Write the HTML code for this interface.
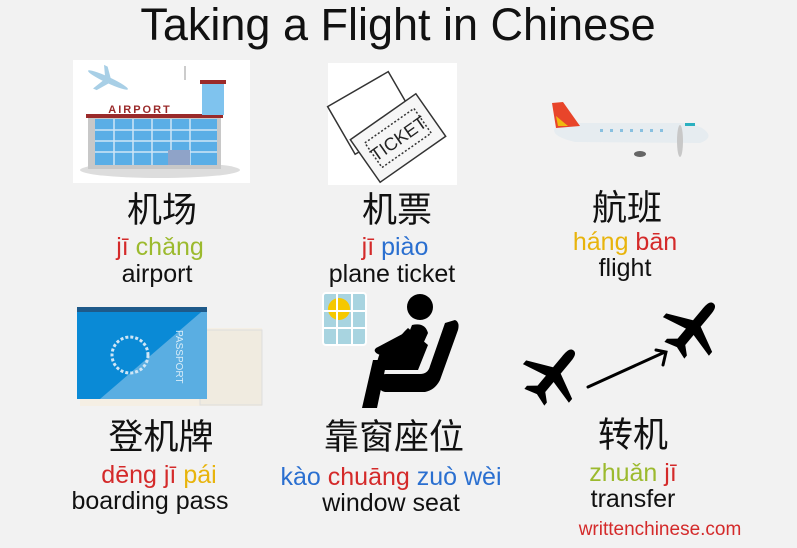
<!DOCTYPE html>
<html><head><meta charset="utf-8"><style>
body{margin:0;width:797px;height:548px;background:#f2f2f2;position:relative;overflow:hidden;font-family:"Liberation Sans","Noto Sans CJK SC",sans-serif;}
.t{position:absolute;text-align:center;white-space:nowrap;transform:translateX(-50%);line-height:1;}
.zh{font-size:35px;color:#111;font-family:"Noto Sans CJK SC",sans-serif;}
.py{font-size:25px;}
.en{font-size:25px;color:#111;}
.r{color:#d42a2a}.g{color:#9cba2e}.b{color:#2a6fd0}.y{color:#e8b40c}
</style></head><body>
<div class="t" style="left:398px;top:2px;font-size:45px;color:#111;">Taking a Flight in Chinese</div>

<svg width="797" height="548" style="position:absolute;left:0;top:0">
<rect x="73" y="60" width="177" height="123" fill="#fff"/>
<ellipse cx="160" cy="170" rx="80" ry="8" fill="#ddd"/>
<rect x="88" y="117" width="133" height="52" fill="#c8c8c8"/>
<rect x="95" y="119" width="122" height="46" fill="#5aaee6"/>
<g stroke="#cfe6f6" stroke-width="1.5"><line x1="95" y1="130" x2="217" y2="130"/><line x1="95" y1="141" x2="217" y2="141"/><line x1="95" y1="152" x2="217" y2="152"/><line x1="114" y1="119" x2="114" y2="165"/><line x1="133" y1="119" x2="133" y2="165"/><line x1="152" y1="119" x2="152" y2="165"/><line x1="171" y1="119" x2="171" y2="165"/><line x1="190" y1="119" x2="190" y2="165"/></g>
<rect x="86" y="114" width="137" height="4" fill="#9a2a2a"/>
<rect x="168" y="150" width="22" height="15" fill="#8fa3c8"/>
<text x="140" y="113" font-size="11" fill="#9a2a2a" font-weight="bold" text-anchor="middle" font-family="Liberation Sans" letter-spacing="2">AIRPORT</text>
<rect x="202" y="82" width="22" height="33" fill="#7fc3ee"/>
<rect x="200" y="80" width="26" height="4" fill="#9a2a2a"/>
<line x1="185" y1="66" x2="185" y2="80" stroke="#999"/>
<g transform="translate(108,80) rotate(25)"><ellipse cx="0" cy="0" rx="22" ry="3" fill="#a8cfe6"/><polygon points="-3,0 4,0 -6,14 -10,14" fill="#a8cfe6"/><polygon points="-3,0 4,0 -6,-12 -10,-12" fill="#a8cfe6"/></g>
<rect x="328" y="63" width="129" height="122" fill="#fff"/>
<g transform="translate(385,122) rotate(-30)" stroke="#333" fill="#fff" stroke-width="1.5"><rect x="-42" y="-42" width="70" height="55"/></g>
<g transform="translate(398,138) rotate(-35)" stroke="#333" fill="#f6f6f6" stroke-width="1.5"><rect x="-40" y="-26" width="80" height="52"/><rect x="-30" y="-15" width="60" height="30" fill="none" stroke-dasharray="2,2"/><text x="0" y="7" font-size="18" font-family="Liberation Sans" text-anchor="middle" fill="#222" stroke="none">TICKET</text></g>
<path d="M555,128 Q550,136 575,142 L700,143 Q716,137 702,128 L690,123 L580,123 Z" fill="#e6ecf0"/>
<polygon points="552,103 563,102 580,126 556,128" fill="#e8452a"/>
<polygon points="556,116 568,126 558,126" fill="#f0b90f"/>
<ellipse cx="680" cy="141" rx="3" ry="16" fill="#c8c8c8"/>
<rect x="685" y="123" width="10" height="3" fill="#2ab0c0"/>
<g fill="#88c0e0"><rect x="600" y="129" width="3" height="3"/><rect x="610" y="129" width="3" height="3"/><rect x="620" y="129" width="3" height="3"/><rect x="630" y="129" width="3" height="3"/><rect x="640" y="129" width="3" height="3"/><rect x="650" y="129" width="3" height="3"/><rect x="660" y="129" width="3" height="3"/></g>
<ellipse cx="640" cy="154" rx="6" ry="3" fill="#666"/>
<rect x="80" y="328" width="182" height="78" fill="#f5efe4"/>
<rect x="200" y="330" width="62" height="75" fill="#f0ebe0" stroke="#ddd"/>
<rect x="77" y="307" width="130" height="92" fill="#0a8ad6"/>
<polygon points="207,307 207,399 100,399" fill="#5aaee2"/>
<rect x="77" y="307" width="130" height="5" fill="#1e5a8a"/>
<circle cx="130" cy="355" r="18" fill="none" stroke="#cfe6f6" stroke-width="3" stroke-dasharray="3,2"/>
<text x="176" y="330" font-size="10" fill="#d8ecf8" transform="rotate(90 176 330)" font-family="Liberation Sans">PASSPORT</text>
<rect x="323" y="293" width="43" height="52" rx="3" fill="#a8d4e0" stroke="#fff" stroke-width="2"/>
<circle cx="339" cy="309" r="11" fill="#f5c800"/>
<g stroke="#fff" stroke-width="2"><line x1="337" y1="293" x2="337" y2="345"/><line x1="352" y1="293" x2="352" y2="345"/><line x1="323" y1="311" x2="366" y2="311"/><line x1="323" y1="328" x2="366" y2="328"/></g>
<circle cx="420" cy="307" r="13" fill="#000"/>
<path d="M412,325 Q425,322 428,333 L418,355 L380,355 Q372,352 376,348 L410,330 Z" fill="#000"/>
<path d="M408,328 Q395,340 395,350 L380,353 Q375,365 378,370 L418,370 L428,345 Z" fill="#000"/>
<path d="M373,360 L387,360 L377,408 L362,408 Z" fill="#000"/>
<path d="M445,323 L455,320 Q460,322 458,330 L440,380 Q435,390 425,392 L385,392 Q377,390 377,382 Q378,374 386,374 L420,374 Q428,374 430,366 Z" fill="#000"/>
<g transform="translate(553,375) rotate(40)" fill="#000"><path d="M0,-32 C5,-32 5,-25 5,-20 L5,-6 L30,6 L30,11 L5,5 L5,18 L13,25 L13,29 L0,25 L-13,29 L-13,25 L-5,18 L-5,5 L-30,11 L-30,6 L-5,-6 L-5,-20 C-5,-25 -5,-32 0,-32Z"/></g>
<g transform="translate(693,328) rotate(40)" fill="#000"><path d="M0,-32 C5,-32 5,-25 5,-20 L5,-6 L30,6 L30,11 L5,5 L5,18 L13,25 L13,29 L0,25 L-13,29 L-13,25 L-5,18 L-5,5 L-30,11 L-30,6 L-5,-6 L-5,-20 C-5,-25 -5,-32 0,-32Z"/></g>
<g stroke="#000" stroke-width="3" fill="none" stroke-linecap="round"><line x1="588" y1="387" x2="665" y2="352"/><polyline points="656,350 666,352 663,365"/></g>
</svg>

<div class="t zh" style="left:162px;top:190px;">机场</div>
<div class="t py" style="left:160px;top:235px;"><span class="r">jī</span> <span class="g">chǎng</span></div>
<div class="t en" style="left:157px;top:262px;">airport</div>

<div class="t zh" style="left:397px;top:190px;">机票</div>
<div class="t py" style="left:395px;top:235px;"><span class="r">jī</span> <span class="b">piào</span></div>
<div class="t en" style="left:392px;top:262px;">plane ticket</div>

<div class="t zh" style="left:627px;top:188px;">航班</div>
<div class="t py" style="left:625px;top:230px;"><span class="y">háng</span> <span class="r">bān</span></div>
<div class="t en" style="left:625px;top:256px;">flight</div>

<div class="t zh" style="left:161px;top:417px;">登机牌</div>
<div class="t py" style="left:159px;top:463px;"><span class="r">dēng jī</span> <span class="y">pái</span></div>
<div class="t en" style="left:150px;top:489px;">boarding pass</div>

<div class="t zh" style="left:394px;top:417px;">靠窗座位</div>
<div class="t py" style="left:391px;top:465px;"><span class="b">kào</span> <span class="r">chuāng</span> <span class="b">zuò wèi</span></div>
<div class="t en" style="left:391px;top:491px;">window seat</div>

<div class="t zh" style="left:633px;top:415px;">转机</div>
<div class="t py" style="left:633px;top:461px;"><span class="g">zhuǎn</span> <span class="r">jī</span></div>
<div class="t en" style="left:633px;top:487px;">transfer</div>

<div class="t" style="left:660px;top:520px;font-size:19px;color:#d42a2a;">writtenchinese.com</div>
</body></html>
